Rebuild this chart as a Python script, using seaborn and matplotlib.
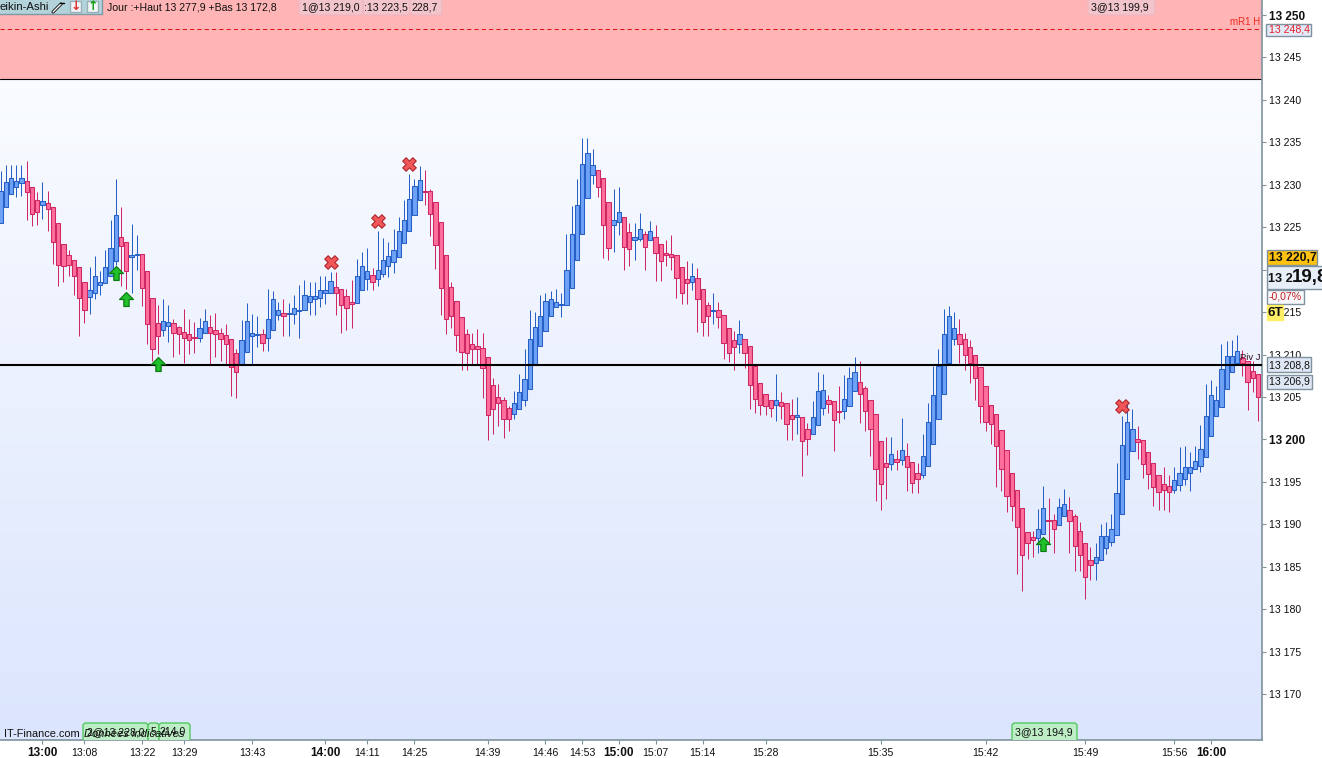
import numpy as np
import pandas as pd
import seaborn as sns
import matplotlib.pyplot as plt
from matplotlib.patches import Rectangle, FancyBboxPatch
from matplotlib.path import Path
from matplotlib.ticker import FixedLocator, FixedFormatter
from matplotlib.transforms import IdentityTransform, Bbox

# Heikin-Ashi candles, one value per bar
opens = [
    13225.5, 13227.4, 13228.9, 13229.8, 13230.2, 13230.5, 13229.8, 13228.2, 13227.6, 13227.8,
    13227.4, 13225.5, 13223.0, 13221.7, 13221.1, 13220.3, 13218.5, 13216.8, 13217.2, 13218.2,
    13218.4, 13219.3, 13221.0, 13223.8, 13223.3, 13221.5, 13221.7, 13221.8, 13219.8, 13216.7,
    13213.7, 13212.9, 13213.4, 13213.7, 13213.2, 13212.7, 13212.4, 13212.1, 13212.0, 13212.5,
    13213.3, 13212.9, 13212.6, 13212.3, 13211.8, 13210.2, 13208.9, 13210.3, 13212.2, 13212.3,
    13212.4, 13211.9, 13212.9, 13214.7, 13214.9, 13214.8, 13214.8, 13215.1, 13215.2, 13216.2,
    13216.5, 13216.7, 13217.2, 13217.3, 13218.0, 13217.7, 13216.9, 13216.2, 13216.1, 13217.6,
    13218.9, 13219.4, 13218.9, 13219.5, 13220.4, 13220.9, 13221.5, 13223.1, 13224.5, 13226.4,
    13228.2, 13229.3, 13229.3, 13228.0, 13225.6, 13221.7, 13218.0, 13216.3, 13214.4, 13212.4,
    13211.3, 13211.0, 13210.8, 13209.7, 13206.4, 13205.0, 13204.7, 13203.7, 13203.0, 13203.6,
    13204.6, 13205.9, 13208.8, 13211.0, 13212.8, 13214.5, 13215.6, 13215.9, 13215.9, 13217.9,
    13221.1, 13224.2, 13228.4, 13231.1, 13231.7, 13230.8, 13228.0, 13225.3, 13225.6, 13226.2,
    13224.4, 13223.5, 13223.6, 13224.2, 13223.5, 13223.9, 13223.0, 13222.0, 13221.9, 13221.7,
    13220.3, 13218.9, 13218.6, 13219.0, 13217.7, 13215.8, 13215.1, 13215.2, 13214.7, 13213.1,
    13211.7, 13211.3, 13211.8, 13211.0, 13208.7, 13206.7, 13205.4, 13204.7, 13204.1, 13204.4,
    13204.3, 13202.9, 13202.7, 13202.7, 13201.2, 13200.7, 13201.7, 13203.7, 13204.7, 13204.5,
    13203.3, 13203.3, 13204.0, 13205.7, 13206.8, 13206.1, 13204.7, 13203.0, 13199.8, 13197.2,
    13197.1, 13197.7, 13197.6, 13198.1, 13197.4, 13196.1, 13195.8, 13196.9, 13199.5, 13202.4,
    13205.4, 13209.0, 13211.8, 13212.4, 13211.8, 13210.9, 13209.9, 13208.5, 13206.3, 13204.1,
    13203.0, 13201.1, 13198.8, 13196.1, 13194.1, 13191.9, 13189.1, 13188.5, 13188.4, 13188.9,
    13190.5, 13190.5, 13189.9, 13191.0, 13191.7, 13191.0, 13189.2, 13187.8, 13185.8, 13185.4,
    13185.8, 13187.2, 13187.9, 13188.7, 13191.2, 13195.3, 13198.7, 13200.0, 13199.9, 13198.5,
    13197.2, 13195.8, 13194.7, 13194.5, 13194.1, 13194.6, 13195.3, 13196.0, 13196.5, 13196.9,
    13197.9, 13200.4, 13202.8, 13203.8, 13206.0, 13207.9, 13209.0, 13209.6, 13209.2, 13208.1,
    13207.7,
]
highs = [
    13231.6, 13232.3, 13232.3, 13232.3, 13232.3, 13232.8, 13229.8, 13229.1, 13230.3, 13229.3,
    13227.4, 13225.5, 13223.0, 13222.3, 13221.1, 13220.3, 13218.5, 13220.3, 13221.6, 13219.8,
    13222.3, 13225.9, 13230.7, 13227.4, 13223.3, 13225.4, 13224.1, 13221.8, 13219.8, 13216.7,
    13215.8, 13216.6, 13215.8, 13214.2, 13213.4, 13215.4, 13214.2, 13213.8, 13214.3, 13215.4,
    13214.7, 13214.9, 13213.1, 13213.6, 13211.8, 13210.7, 13214.1, 13216.1, 13214.8, 13214.5,
    13213.0, 13217.7, 13217.5, 13216.2, 13216.5, 13216.1, 13217.0, 13218.2, 13218.8, 13218.5,
    13218.5, 13219.3, 13219.3, 13219.7, 13219.7, 13217.7, 13217.7, 13218.8, 13221.3, 13222.1,
    13222.5, 13220.2, 13224.6, 13223.7, 13223.3, 13224.8, 13226.2, 13228.2, 13231.3, 13230.7,
    13232.2, 13231.7, 13229.5, 13228.0, 13225.6, 13221.7, 13218.5, 13216.3, 13214.4, 13213.0,
    13212.5, 13213.0, 13212.5, 13209.7, 13207.2, 13206.5, 13205.0, 13204.0, 13205.7, 13207.7,
    13210.7, 13215.2, 13215.0, 13217.0, 13217.3, 13217.5, 13217.7, 13217.3, 13224.2, 13227.5,
    13230.7, 13235.5, 13235.5, 13234.2, 13231.7, 13230.8, 13228.0, 13229.5, 13229.7, 13226.2,
    13225.5, 13225.5, 13226.7, 13224.6, 13225.7, 13225.3, 13223.0, 13223.5, 13224.1, 13221.7,
    13220.3, 13221.0, 13220.8, 13220.2, 13217.7, 13216.2, 13217.3, 13216.2, 13214.7, 13213.1,
    13212.8, 13214.1, 13211.8, 13211.0, 13208.7, 13206.7, 13205.4, 13204.7, 13207.7, 13205.6,
    13204.3, 13204.8, 13205.0, 13202.7, 13202.0, 13204.5, 13208.0, 13207.7, 13205.2, 13204.5,
    13206.3, 13207.6, 13208.5, 13209.7, 13209.2, 13206.3, 13204.7, 13203.0, 13199.8, 13200.3,
    13200.3, 13198.8, 13202.5, 13199.6, 13197.4, 13197.2, 13200.7, 13204.3, 13208.7, 13210.7,
    13215.4, 13215.7, 13215.0, 13214.2, 13212.5, 13211.7, 13210.0, 13208.5, 13206.3, 13204.1,
    13203.0, 13201.1, 13198.8, 13196.1, 13194.1, 13191.9, 13189.1, 13189.2, 13191.8, 13194.5,
    13193.1, 13191.2, 13193.1, 13194.2, 13193.2, 13191.2, 13190.3, 13187.8, 13187.3, 13187.8,
    13190.0, 13190.3, 13191.2, 13197.2, 13202.8, 13204.5, 13203.6, 13201.6, 13199.9, 13198.5,
    13197.2, 13195.8, 13196.7, 13195.8, 13196.7, 13199.1, 13199.2, 13198.5, 13199.2, 13201.7,
    13206.5, 13207.0, 13206.3, 13211.2, 13211.6, 13211.7, 13212.3, 13210.5, 13209.2, 13209.2,
    13207.7,
]
lows = [
    13225.5, 13227.4, 13228.9, 13228.6, 13228.7, 13225.8, 13225.1, 13225.3, 13226.0, 13224.6,
    13220.7, 13218.1, 13218.6, 13219.3, 13217.0, 13212.2, 13213.7, 13214.8, 13216.5, 13217.0,
    13218.4, 13219.3, 13220.5, 13218.1, 13217.7, 13217.3, 13220.0, 13215.7, 13211.3, 13209.2,
    13210.1, 13212.2, 13211.5, 13209.7, 13210.1, 13209.0, 13210.1, 13210.2, 13211.5, 13212.5,
    13208.9, 13209.7, 13209.3, 13208.8, 13205.1, 13204.9, 13208.9, 13210.3, 13208.8, 13210.9,
    13210.4, 13210.4, 13212.9, 13214.1, 13212.2, 13212.2, 13213.6, 13212.0, 13215.2, 13214.7,
    13214.7, 13215.6, 13216.0, 13217.3, 13214.7, 13212.6, 13212.9, 13213.1, 13216.1, 13217.6,
    13217.6, 13217.6, 13218.1, 13219.1, 13219.1, 13219.6, 13221.5, 13223.1, 13224.5, 13226.4,
    13228.2, 13227.6, 13224.0, 13220.1, 13214.7, 13212.4, 13213.1, 13210.4, 13208.2, 13208.2,
    13208.9, 13208.9, 13204.9, 13199.9, 13200.6, 13201.6, 13200.2, 13201.0, 13202.4, 13203.6,
    13203.9, 13205.9, 13208.8, 13211.0, 13212.8, 13214.5, 13215.6, 13214.4, 13215.9, 13217.9,
    13221.1, 13224.2, 13228.4, 13230.1, 13228.6, 13221.4, 13221.1, 13222.1, 13224.1, 13220.0,
    13220.4, 13221.1, 13223.4, 13220.0, 13223.5, 13218.7, 13218.7, 13220.4, 13220.0, 13216.7,
    13216.0, 13216.0, 13217.6, 13212.7, 13212.2, 13212.2, 13213.6, 13213.1, 13209.5, 13209.1,
    13208.2, 13210.2, 13208.4, 13203.6, 13203.1, 13202.9, 13202.9, 13202.6, 13202.2, 13202.4,
    13199.9, 13199.9, 13200.6, 13195.7, 13198.2, 13200.7, 13201.7, 13202.9, 13203.1, 13198.6,
    13201.9, 13202.4, 13204.0, 13205.7, 13201.9, 13201.0, 13198.0, 13192.7, 13191.7, 13193.0,
    13196.4, 13196.4, 13197.0, 13193.9, 13193.7, 13193.7, 13195.5, 13196.9, 13199.5, 13202.4,
    13205.4, 13209.0, 13211.1, 13209.0, 13208.2, 13206.7, 13204.7, 13201.9, 13201.0, 13199.5,
    13194.4, 13193.9, 13191.5, 13190.4, 13184.2, 13182.2, 13185.9, 13186.2, 13186.6, 13188.9,
    13187.8, 13186.6, 13189.9, 13191.0, 13186.6, 13184.5, 13184.5, 13181.2, 13183.4, 13183.4,
    13185.8, 13186.5, 13187.5, 13188.7, 13191.2, 13195.3, 13198.7, 13197.7, 13195.5, 13194.2,
    13192.2, 13191.7, 13191.7, 13191.5, 13193.7, 13193.9, 13194.6, 13193.9, 13196.5, 13196.2,
    13197.9, 13200.4, 13202.8, 13203.8, 13206.0, 13207.9, 13209.0, 13207.5, 13203.5, 13205.6,
    13202.2,
]
closes = [
    13229.3, 13230.3, 13230.8, 13230.4, 13230.8, 13229.2, 13226.6, 13226.8, 13228.1, 13227.1,
    13223.3, 13220.6, 13220.4, 13220.5, 13219.3, 13216.7, 13215.2, 13217.6, 13219.3, 13218.6,
    13220.3, 13222.5, 13226.5, 13222.8, 13219.9, 13221.7, 13221.8, 13217.8, 13213.6, 13210.7,
    13212.2, 13213.9, 13213.8, 13212.6, 13212.4, 13212.0, 13211.7, 13212.0, 13213.1, 13214.0,
    13212.5, 13212.4, 13211.8, 13211.3, 13208.5, 13207.9, 13211.7, 13214.0, 13212.5, 13212.4,
    13211.4, 13214.2, 13216.5, 13215.3, 13214.6, 13214.9, 13215.5, 13215.2, 13217.0, 13216.9,
    13216.9, 13217.6, 13217.6, 13218.7, 13217.3, 13215.9, 13215.5, 13216.0, 13219.3, 13220.4,
    13219.9, 13218.5, 13220.0, 13221.2, 13221.6, 13222.3, 13224.6, 13225.9, 13228.3, 13229.9,
    13230.6, 13229.2, 13226.6, 13222.9, 13217.8, 13214.2, 13214.6, 13212.3, 13210.3, 13210.2,
    13210.7, 13210.7, 13208.4, 13202.9, 13203.6, 13204.3, 13202.4, 13202.4, 13204.3, 13205.6,
    13207.1, 13211.8, 13213.3, 13214.5, 13216.3, 13216.5, 13216.2, 13216.0, 13220.0, 13224.2,
    13227.6, 13232.5, 13233.8, 13232.3, 13229.8, 13225.3, 13222.6, 13225.9, 13226.8, 13222.7,
    13222.4, 13223.8, 13224.8, 13222.7, 13224.5, 13222.0, 13221.0, 13221.7, 13221.5, 13219.0,
    13217.3, 13218.4, 13219.3, 13216.5, 13213.8, 13214.5, 13215.3, 13214.4, 13211.4, 13210.2,
    13210.9, 13212.4, 13210.2, 13206.4, 13204.8, 13204.1, 13204.0, 13203.7, 13204.6, 13204.0,
    13201.8, 13202.4, 13202.9, 13199.8, 13200.1, 13202.7, 13205.7, 13205.8, 13204.2, 13202.3,
    13203.2, 13204.8, 13207.3, 13208.0, 13205.4, 13203.3, 13201.2, 13196.5, 13194.7, 13196.8,
    13198.3, 13197.4, 13198.8, 13196.7, 13194.9, 13195.4, 13198.1, 13202.1, 13205.2, 13208.6,
    13212.4, 13214.6, 13213.1, 13211.2, 13209.9, 13209.0, 13207.2, 13203.9, 13202.1, 13201.8,
    13199.2, 13196.5, 13193.3, 13192.2, 13189.7, 13186.4, 13187.8, 13188.2, 13189.5, 13191.9,
    13190.4, 13189.4, 13192.0, 13192.4, 13190.4, 13187.4, 13186.4, 13183.8, 13185.2, 13186.1,
    13188.6, 13188.6, 13189.4, 13193.7, 13199.4, 13202.1, 13201.2, 13199.7, 13197.1, 13195.9,
    13194.4, 13193.8, 13194.1, 13193.8, 13195.2, 13196.1, 13196.7, 13196.8, 13197.5, 13198.9,
    13202.8, 13205.2, 13204.6, 13208.3, 13209.8, 13209.8, 13210.4, 13209.0, 13206.8, 13207.3,
    13205.0,
]

# signals drawn on the chart (bar number, price)
buy_bars = [22, 24, 30, 199]
buy_prices = [13219.6, 13216.5, 13208.9, 13187.7]
sell_bars = [63, 72, 78, 214]
sell_prices = [13220.9, 13225.7, 13232.4, 13203.9]

pivot_price = 13208.8
mr1_price = 13248.4
zone_bottom = 13242.5

price_ticks = list(range(13170, 13255, 5))
price_labels = ['13 %03d' % (p - 13000) for p in price_ticks]
price_labels[price_ticks.index(13220)] = ''

time_bars = [8, 16, 27, 35, 48, 62, 70, 79, 93, 104, 111, 118, 125, 134, 146, 168, 188, 207, 224, 231]
time_labels = ['13:00', '13:08', '13:22', '13:29', '13:43', '14:00', '14:11', '14:25', '14:39', '14:46',
               '14:53', '15:00', '15:07', '15:14', '15:28', '15:35', '15:42', '15:49', '15:56', '16:00']

df = pd.DataFrame({'open': opens, 'high': highs, 'low': lows, 'close': closes})
df['bar'] = df.index
df['top'] = df[['open', 'close']].max(axis=1)
df['bottom'] = df[['open', 'close']].min(axis=1)
df['rising'] = df['close'] >= df['open']

sns.set_style('white')
plt.rcParams['font.family'] = ['Liberation Sans', 'DejaVu Sans']

W, H = 1322, 758
fig = plt.figure(figsize=(W / 100, H / 100), dpi=100)
ax = fig.add_axes([0, 18 / H, 1262 / W, 740 / H])


def fx(x):
    return x / W


def fy(y):
    return 1 - y / H


def box(x0, y0, x1, y1, face, edge='#7f929f', lw=1.0, rounded=False, z=4):
    # overlay boxes are placed in picture pixels, measured from the top left
    if rounded:
        p = FancyBboxPatch((x0, H - y1), x1 - x0, y1 - y0, boxstyle='round,pad=0,rounding_size=3',
                           facecolor=face, edgecolor=edge, linewidth=lw, zorder=z,
                           transform=IdentityTransform())
    else:
        p = Rectangle((x0, H - y1), x1 - x0, y1 - y0, facecolor=face, edgecolor=edge,
                      linewidth=lw, zorder=z, transform=IdentityTransform())
    fig.add_artist(p)
    # tags sit on the axis line, so nothing of them shows below it
    p.set_clip_box(Bbox([[0, H - 740], [W, H]]))
    p.set_clip_on(True)


def label(x, y, s, size=7.6, color='#101010', z=5, **kw):
    fig.text(fx(x), fy(y), s, fontsize=size, color=color, va='center', zorder=z, **kw)


# background gradient
grad = np.linspace(np.array([253, 254, 255]), np.array([219, 229, 253]), 256).reshape(256, 1, 3) / 255
ax.imshow(grad, extent=(0, 1, 0, 1), transform=ax.transAxes, aspect='auto', zorder=0)

ax.axhspan(zone_bottom, 13260, color='#ffb5b5', lw=0, zorder=1)
ax.axhline(zone_bottom, color='black', lw=0.8, zorder=2)
ax.axhline(mr1_price, color='#e0101c', lw=0.75, ls=(0, (4, 3)), zorder=2)

# candles
for rising, face, edge in [(True, '#6ea2f6', '#2660c6'), (False, '#ff6f9b', '#cf2763')]:
    part = df[df['rising'] == rising]
    wicks = ax.vlines(part['bar'], part['low'], part['high'], color=edge, lw=0.72, zorder=3)
    wicks.set_snap(True)
    ax.bar(part['bar'], part['top'] - part['bottom'], bottom=part['bottom'], width=0.82,
           color=face, edgecolor=edge, linewidth=0.75, zorder=4)

ax.axhline(pivot_price, color='black', lw=1.5, zorder=5)

# buy / sell signals
arrow = Path([(-0.38, -1), (0.38, -1), (0.38, 0), (1, 0), (0, 1), (-1, 0), (-0.38, 0), (-0.38, -1)], closed=True)
sns.scatterplot(x=buy_bars, y=buy_prices, marker=arrow, s=100, color='#22c02a', edgecolor='#0a7d12',
                linewidth=0.9, zorder=6, ax=ax, legend=False)
sns.scatterplot(x=sell_bars, y=sell_prices, marker='X', s=95, color='#f0575a', edgecolor='#b02428',
                linewidth=0.8, zorder=6, ax=ax, legend=False)

ax.set_xlim(-0.1, 240.74)
ax.set_ylim(13164.6, 13251.77)
ax.set_xlabel('')
ax.set_ylabel('')

for s in ['left', 'top']:
    ax.spines[s].set_visible(False)
for s in ['right', 'bottom']:
    ax.spines[s].set_color('#7f929f')
    ax.spines[s].set_linewidth(1.2)

ax.yaxis.tick_right()
ax.yaxis.set_major_locator(FixedLocator(price_ticks))
ax.yaxis.set_major_formatter(FixedFormatter(price_labels))
ax.xaxis.set_major_locator(FixedLocator(time_bars))
ax.xaxis.set_major_formatter(FixedFormatter(time_labels))
ax.tick_params(axis='y', length=3.2, width=0.8, color='#7f929f', labelsize=7.6, pad=1.5, labelcolor='#101010', right=True)
ax.tick_params(axis='x', length=3, width=0.8, color='#7f929f', labelsize=7.6, pad=2.4, labelcolor='#101010', bottom=True)
for t in ax.get_yticklabels():
    if t.get_text() in ('13 250', '13 200'):
        t.set_fontweight('bold')
        t.set_fontsize(8.5)
for t in ax.get_xticklabels():
    if t.get_text().endswith(':00'):
        t.set_fontweight('bold')
        t.set_fontsize(8.5)

# top toolbar
box(-2, -2, 102, 14, '#b3d3db', '#7f9aa5')
label(0, 7, 'eikin-Ashi', size=8.2, ha='left')
fig.add_artist(plt.Line2D([fx(53), fx(61)], [fy(12), fy(4)], color='black', lw=2.2, zorder=5))
fig.add_artist(plt.Line2D([fx(53), fx(61)], [fy(12), fy(4)], color='white', lw=1.0, zorder=5))
fig.add_artist(plt.Line2D([fx(60), fx(64)], [fy(3), fy(3)], color='black', lw=1.0, zorder=5))
box(70, 1, 81, 12, '#f2f6f8', '#9ab0b8')
box(87, 1, 98, 12, '#f2f6f8', '#9ab0b8')
fig.text(fx(75.5), fy(7), '\u2193', fontsize=9, color='#e03030', ha='center', va='center', zorder=5,
         family='DejaVu Sans', fontweight='bold')
fig.text(fx(92.5), fy(7), '\u2191', fontsize=9, color='#10a010', ha='center', va='center', zorder=5,
         family='DejaVu Sans', fontweight='bold')
label(107, 7, 'Jour :+Haut 13 277,9 +Bas 13 172,8')

for x0, x1 in [(299, 363), (363, 410), (410, 442)]:
    box(x0, -4, x1, 15, '#f2c4cc', '#eeb6bf', lw=0.8, rounded=True)
label(302, 7, '1@13 219,0')
label(364, 7, ':13 223,5')
label(412, 7, '228,7')
box(1088, -4, 1155, 15, '#f2c4cc', '#eeb6bf', lw=0.8, rounded=True)
label(1091, 7, '3@13 199,9')
label(1230, 22, 'mR1 H', size=7, color='#f02a20')

# bottom left
label(4, 734, 'IT-Finance.com', size=7.9)
for x0, x1 in [(83, 148), (148, 159), (159, 190)]:
    box(x0, 723, x1, 746, '#bdeec5', '#55c860', rounded=True)
label(87, 732, '2@13 228,0')
label(151, 732, '5')
label(160, 732, '214,0')
label(84, 734, 'Données indicatives', size=8, style='italic')
box(1012, 723, 1077, 746, '#bdeec5', '#55c860', rounded=True)
label(1015, 732, '3@13 194,9')

# price boxes on the right
box(1266, 24, 1311, 36, '#e2eaf8')
label(1269, 30, '13 248,4', color='#e81e28')
box(1267, 250, 1317, 265, '#ffc20e')
label(1269, 258, '13 220,7', size=8.8, fontweight='bold')
box(1267, 266, 1330, 289, '#e8eff9')
label(1268, 279, '13 2', size=9.2, fontweight='bold')
label(1292, 278, '19,8', size=13.5, fontweight='bold')
box(1267, 290, 1304, 304, '#f6f8fb')
label(1269, 297, '-0,07%', color='#c02020')
box(1267, 305, 1283, 320, '#ffee66', '#ffee66')
label(1268, 313, '6T', size=9.6, fontweight='bold')
box(1267, 357, 1311, 372, '#dfe7f5')
label(1269, 365, '13 208,8')
box(1267, 375, 1312, 389, '#dfe7f5')
label(1269, 382, '13 206,9')
label(1240, 358, 'Piv J', size=6.8, color='#301020')

fig.savefig('out.png', dpi=100)
